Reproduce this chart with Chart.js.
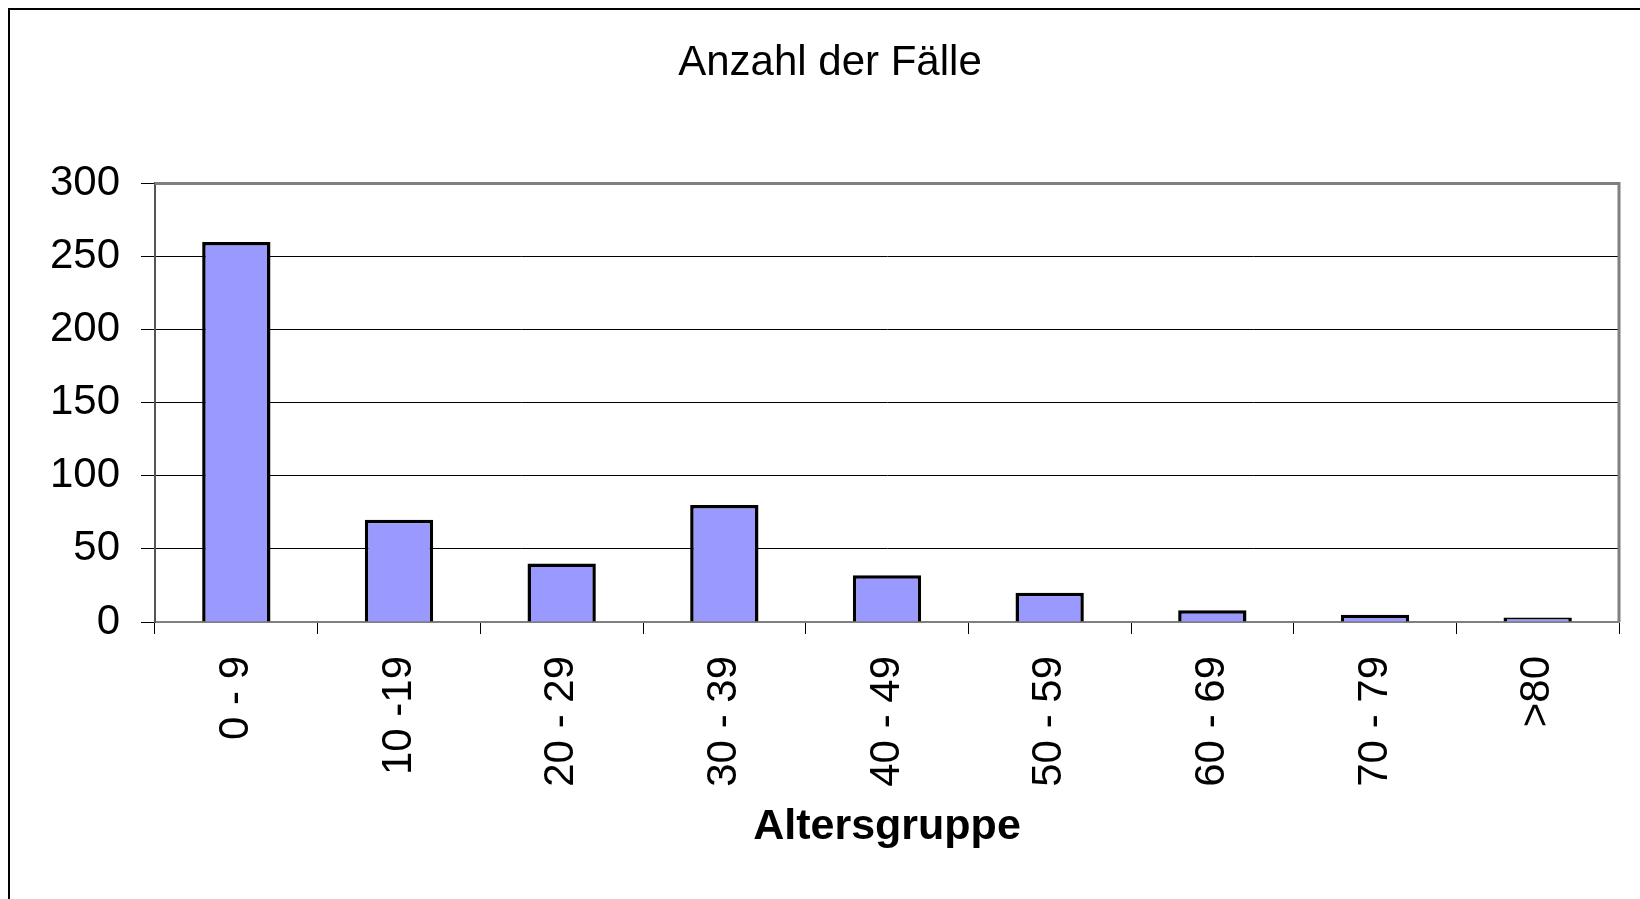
<!DOCTYPE html>
<html><head><meta charset="utf-8">
<script src="https://cdn.jsdelivr.net/npm/chart.js@4.4.1/dist/chart.umd.min.js"></script>
<style>html,body{margin:0;padding:0;background:#fff;overflow:hidden}canvas{display:block}</style>
</head><body>
<canvas id="c" width="1640" height="899"></canvas>
<script>
const categories = ['0 - 9', '10 -19', '20 - 29', '30 - 39', '40 - 49', '50 - 59', '60 - 69', '70 - 79', '>80'];
const cases = [260, 70, 40, 80, 32, 20, 8, 5, 3];
const yTickValues = [0, 50, 100, 150, 200, 250, 300];
const chartTitle = 'Anzahl der Fälle';
const xAxisTitle = 'Altersgruppe';

const FONT = '"Liberation Sans", Arial, sans-serif';

const framePlugin = {
  id: 'frame',
  beforeDraw(chart) {
    const ctx = chart.ctx;
    ctx.save();
    ctx.fillStyle = '#ffffff';
    ctx.fillRect(0, 0, chart.width, chart.height);
    ctx.strokeStyle = '#000000';
    ctx.lineWidth = 2;
    ctx.beginPath();
    ctx.moveTo(9, 2000);
    ctx.lineTo(9, 9);
    ctx.lineTo(2000, 9);
    ctx.stroke();
    ctx.restore();
  },
  beforeDatasetsDraw(chart) {
    const {left, top, right, bottom} = chart.chartArea;
    const ctx = chart.ctx;
    ctx.save();
    ctx.strokeStyle = '#808080';
    ctx.lineWidth = 3;
    ctx.beginPath();
    ctx.moveTo(left, top);
    ctx.lineTo(right, top);
    ctx.lineTo(right, bottom);
    ctx.stroke();
    ctx.restore();
  }
};

new Chart(document.getElementById('c'), {
  type: 'bar',
  data: {
    labels: categories,
    datasets: [{
      data: cases,
      backgroundColor: '#9999FF',
      borderColor: '#000000',
      borderWidth: 3.5,
      barPercentage: 0.42,
      categoryPercentage: 1.0
    }]
  },
  options: {
    responsive: false,
    animation: false,
    devicePixelRatio: 1,
    layout: { padding: { left: 41, right: 21, top: 0, bottom: 0 } },
    plugins: {
      legend: { display: false },
      tooltip: { enabled: false },
      title: {
        display: true,
        text: chartTitle,
        color: '#000000',
        font: { family: FONT, size: 42, weight: 'normal', lineHeight: 1.2 },
        padding: { top: 38, bottom: 95 }
      }
    },
    scales: {
      x: {
        grid: {
          offset: true,
          drawOnChartArea: false,
          drawTicks: true,
          tickLength: 12,
          tickColor: '#000000',
          tickWidth: 1
        },
        border: { display: true, color: '#808080', width: 2 },
        ticks: {
          autoSkip: false,
          minRotation: 90,
          maxRotation: 90,
          padding: 22,
          color: '#000000',
          font: { family: FONT, size: 42 }
        },
        title: {
          display: true,
          text: xAxisTitle,
          color: '#000000',
          font: { family: FONT, size: 43, weight: 'bold', lineHeight: 1.2 },
          padding: { top: 0, bottom: 46 }
        },
        afterFit(scale) { scale.height = 277; }
      },
      y: {
        min: 0,
        max: 300,
        afterBuildTicks(scale) { scale.ticks = yTickValues.map(v => ({ value: v })); },
        grid: {
          color: (ctx) => (ctx.tick && ctx.tick.value === 0) ? 'rgba(0,0,0,0)' : '#000000',
          lineWidth: 1,
          drawTicks: true,
          tickLength: 14,
          tickColor: '#000000',
          tickWidth: 1
        },
        border: { display: true, color: '#555555', width: 2 },
        ticks: {
          padding: 21,
          color: '#000000',
          font: { family: FONT, size: 42 }
        },
        afterFit(scale) { scale.width = 114; }
      }
    }
  },
  plugins: [framePlugin]
});
</script>
</body></html>
